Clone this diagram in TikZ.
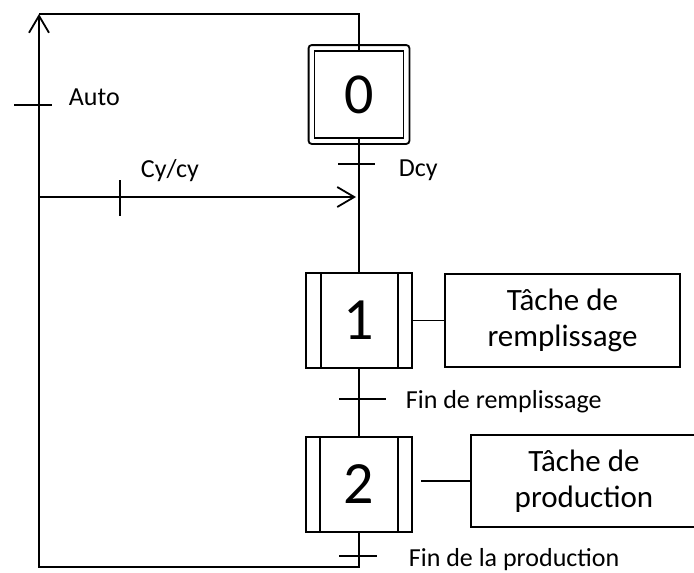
\documentclass[tikz,border=0pt]{standalone}
\usepackage{fontspec}
\setmainfont{Carlito}
\usetikzlibrary{arrows.meta}
\begin{document}
\begin{tikzpicture}[x=1pt,y=-1pt, line width=1.8pt,
  stepnum/.style={draw, inner sep=0pt, minimum width=106pt, minimum height=95pt,
    font=\fontsize{60}{64}\selectfont},
  actionbox/.style={draw, align=center, inner sep=0pt, font=\fontsize{31}{36}\selectfont},
  cond/.style={anchor=base west, inner sep=0pt, font=\fontsize{26}{30}\selectfont},
  flow/.style={-{Straight Barb[length=17pt,width=20pt]}},
]
\useasboundingbox (0,0) rectangle (694,573);
\clip (0,0) rectangle (694,573);

% initial step (double frame)
\node[draw, inner sep=0pt, minimum width=89pt, minimum height=87pt,
  font=\fontsize{58}{62}\selectfont] (s0) at (359,94.5) {0};
\draw[rounded corners=3pt] ([xshift=-5pt,yshift=-5pt]s0.south west)
  rectangle ([xshift=5pt,yshift=5pt]s0.north east);

% steps 1 and 2 (task steps)
\node[stepnum] (s1) at (359,320.5) {1};
\draw ([xshift=16pt]s1.north west) -- ([xshift=16pt]s1.south west);
\draw ([xshift=-15pt]s1.north east) -- ([xshift=-15pt]s1.south east);

\node[stepnum] (s2) at (359,484.5) {2};
\draw ([xshift=15pt]s2.north west) -- ([xshift=15pt]s2.south west);
\draw ([xshift=-15pt]s2.north east) -- ([xshift=-15pt]s2.south east);

% actions
\node[actionbox, minimum width=235pt, minimum height=93pt] (a1) at (562.5,320.5)
  {Tâche de\\remplissage};
\node[actionbox, minimum width=226pt, minimum height=92pt] (a2) at (584,481)
  {Tâche de\\production};

% links
\coordinate (top) at (39,14);
\coordinate (bot) at (39,567);
\coordinate (cyin) at (39,197);
\coordinate (cyend) at (356,197);
\coordinate (a2in) at (421,481);

\draw (top) -| (s0.north);
\draw (s0.south) -- (s1.north);
\draw (s1.south) -- (s2.north);
\draw[flow] (s2.south) |- (bot) -- (top);
\draw[flow] (cyin) -- (cyend);
\draw (s1.east) -- (a1.west);
\draw (a2in) -- (a2.west);

% transitions
\draw (14,105) -- (52,105);
\draw (120,180) -- (120,216);
\draw (338,164) -- (375,164);
\draw (339,399) -- (386,399);
\draw (339,556) -- (377,556);

% receptivities
\node[cond] (tauto) at (68,105) {Auto};
\node[cond] (tcy) at (140,177) {Cy/cy};
\node[cond] (tdcy) at (398,176) {Dcy};
\node[cond] (tfr) at (405,408) {Fin de remplissage};
\node[cond] (tfp) at (408,566) {Fin de la production};
\end{tikzpicture}
\end{document}
